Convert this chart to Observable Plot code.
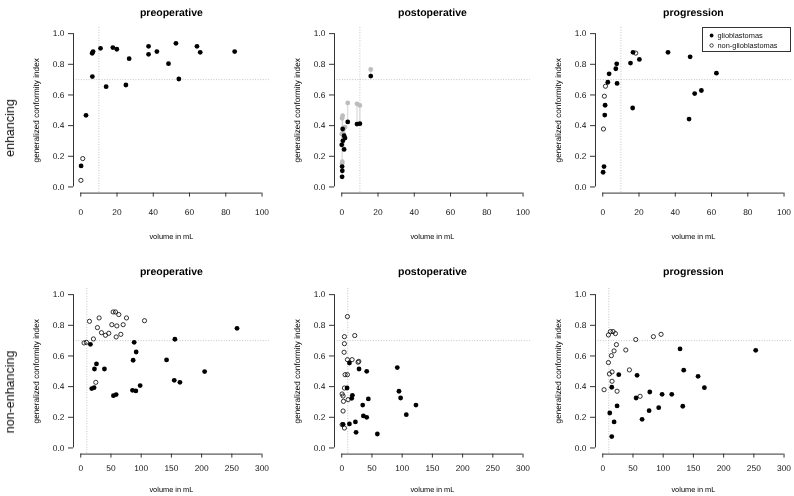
<!DOCTYPE html>
<html>
<head>
<meta charset="utf-8">
<script src="https://cdn.jsdelivr.net/npm/d3@7"></script>
<script src="https://cdn.jsdelivr.net/npm/@observablehq/plot@0.6"></script>
<style>
  html, body { margin: 0; padding: 0; background: #fff; }
  #wrap { position: relative; width: 794px; height: 496px; overflow: hidden; background: #fff;
          font-family: "Liberation Sans", Arial, Helvetica, sans-serif; color: #222; }
  .panel { position: absolute; will-change: transform; text-rendering: geometricPrecision; }
  .rowlab { position: absolute; transform: translate(-50%, -50%) rotate(-90deg); white-space: nowrap;
            font-size: 12.5px; color: #111; will-change: transform; }
  .legend { position: absolute; box-sizing: border-box; border: 1px solid #333; background: #fff;
            font-size: 7.4px; color: #111; will-change: transform; }
  .legend .row { position: absolute; left: 0; white-space: nowrap; display: flex; align-items: center; }
  .legend svg { display: block; }
</style>
</head>
<body>
<div id="wrap"></div>
<script>
// ---------- labels ----------
const panelTitles = ["preoperative", "postoperative", "progression"];
const rowLabels = ["enhancing", "non-enhancing"];
const xLabel = "volume in mL";
const yLabel = "generalized conformity index";
const legendLabels = ["glioblastomas", "non-glioblastomas"];

// ---------- axes ----------
const xTicksEnhancing = [0, 20, 40, 60, 80, 100];
const xTicksNonEnhancing = [0, 50, 100, 150, 200, 250, 300];
const yTicks = [0, 0.2, 0.4, 0.6, 0.8, 1.0];
const volumeCutoff = 10;
const gciCutoff = 0.7;

// ---------- enhancing, preoperative: [volume, gci] ----------
const enhPreGbm = [[0.2,0.137],[2.9,0.467],[6.3,0.872],[6.8,0.883],[6.4,0.72],[10.9,0.904],[14.0,0.654],
  [17.7,0.909],[19.9,0.898],[24.9,0.665],[26.7,0.837],[37.4,0.917],[37.4,0.865],[42.0,0.883],[48.4,0.804],
  [52.5,0.937],[54.1,0.704],[64.1,0.917],[65.9,0.878],[84.9,0.883]];
const enhPreNon = [[1.1,0.185],[0.1,0.043]];

// ---------- enhancing, postoperative: [volume, gci (black), gci (grey)] ----------
const enhPostPairs = [[0.2,0.066,0.448],[0.3,0.105,0.165],[0.2,0.133,0.155],[0.5,0.378,0.465],
  [0.0,0.275,0.345],[0.6,0.301,0.35],[1.3,0.334,0.384],[1.8,0.319,0.39],[1.3,0.245,0.33],
  [3.3,0.424,0.548],[8.4,0.41,0.542],[10.0,0.413,0.532],[16.0,0.723,0.766]];

// ---------- enhancing, progression ----------
const enhProgGbm = [[0.2,0.096],[0.7,0.133],[1.1,0.469],[1.3,0.533],[2.8,0.683],[3.5,0.738],[7.2,0.771],
  [7.7,0.803],[7.9,0.675],[15.3,0.808],[16.5,0.515],[16.7,0.878],[20.2,0.832],[36.0,0.878],[48.2,0.849],
  [47.6,0.443],[50.7,0.609],[54.4,0.629],[62.7,0.742]];
const enhProgNon = [[0.4,0.378],[0.9,0.592],[1.5,0.657],[18.2,0.873]];

// ---------- non-enhancing, preoperative ----------
const nonPreGbm = [[16.0,0.676],[26.0,0.548],[22.7,0.515],[39.2,0.515],[18.2,0.387],[22.1,0.393],[54.1,0.341],
  [58.6,0.348],[88.4,0.689],[91.7,0.626],[86.7,0.572],[85.6,0.376],[91.2,0.372],[98.3,0.407],[142.0,0.574],
  [155.8,0.709],[154.7,0.441],[164.1,0.428],[205.0,0.498],[258.6,0.78]];
const nonPreNon = [[5.5,0.685],[9.4,0.689],[14.4,0.826],[21.0,0.711],[24.9,0.428],[27.6,0.785],[30.4,0.848],
  [34.3,0.752],[40.9,0.735],[46.4,0.748],[51.4,0.804],[53.6,0.887],[57.5,0.887],[59.7,0.796],[63.0,0.87],
  [58.6,0.724],[66.3,0.741],[70.2,0.804],[75.7,0.848],[105.5,0.83]];

// ---------- non-enhancing, postoperative ----------
const nonPostGbm = [[12.7,0.554],[28.6,0.515],[41.3,0.5],[8.8,0.391],[17.6,0.343],[16.5,0.324],[44.0,0.32],
  [34.7,0.28],[35.8,0.209],[41.3,0.2],[2.2,0.154],[12.7,0.157],[22.6,0.17],[23.7,0.102],[58.9,0.091],
  [91.9,0.524],[94.7,0.37],[97.4,0.326],[106.8,0.217],[122.8,0.28]];
const nonPostNon = [[9.4,0.857],[4.4,0.726],[21.5,0.733],[4.4,0.68],[3.9,0.624],[9.4,0.576],[17.1,0.576],
  [27.0,0.559],[28.2,0.565],[5.5,0.478],[9.4,0.478],[4.4,0.391],[0.6,0.352],[2.2,0.339],[2.8,0.304],
  [10.5,0.315],[2.2,0.241],[0.6,0.152],[4.4,0.13]];

// ---------- non-enhancing, progression ----------
const nonProgGbm = [[26.5,0.478],[14.9,0.396],[56.8,0.474],[55.2,0.326],[77.8,0.365],[98.2,0.35],[114.2,0.35],
  [127.9,0.646],[134.0,0.507],[157.7,0.467],[168.2,0.393],[132.4,0.272],[253.1,0.637],[23.7,0.274],
  [11.6,0.228],[18.8,0.17],[14.9,0.074],[65.1,0.187],[76.7,0.243],[92.6,0.263]];
const nonProgNon = [[9.4,0.737],[12.7,0.759],[17.1,0.759],[21.0,0.746],[22.6,0.674],[18.7,0.633],[14.3,0.602],
  [9.4,0.557],[15.4,0.496],[11.0,0.483],[15.4,0.435],[23.7,0.37],[2.2,0.38],[38.1,0.639],[44.1,0.509],
  [54.6,0.707],[61.8,0.337],[83.8,0.726],[96.5,0.741]];

// ---------- layout ----------
const FRAME_W = 195.8, FRAME_H = 165.6;
const COL_LEFT = [73.4, 334.4, 595.4];
const ROW_TOP = [26.7, 288.2];
const TITLE_DY = [-19, -21];
const TICK_PAD = [12, 7];
const XLAB_DY = [46, 38];
const ML = 48, MR = 2, MT = 28, MB = 52;

const wrap = document.getElementById("wrap");
const FONT = "'Liberation Sans', Arial, Helvetica, sans-serif";

function makePanel({row, col, xmax, xticks, gbm = [], non = [], pairs = null}) {
  const pad = 0.04 * xmax;
  const refStyle = {stroke: "#c4c4c4", strokeWidth: 1, strokeDasharray: "1,1.6"};
  const marks = [
    Plot.ruleX([volumeCutoff], refStyle),
    Plot.ruleY([gciCutoff], refStyle),
    // R-style axis lines spanning first to last tick
    Plot.ruleY([{y: -0.04, x1: xticks[0], x2: xticks[xticks.length - 1]}],
               {y: "y", x1: "x1", x2: "x2", stroke: "#333", strokeWidth: 1}),
    Plot.ruleX([{x: -pad, y1: yTicks[0], y2: yTicks[yTicks.length - 1]}],
               {x: "x", y1: "y1", y2: "y2", stroke: "#333", strokeWidth: 1}),
    Plot.axisX({ticks: xticks, tickSize: 4, tickPadding: TICK_PAD[row], fontSize: 8.4, tickFormat: d => String(d), label: null, stroke: "#333", fill: "#111"}),
    Plot.axisY({ticks: yTicks, tickSize: 5, tickPadding: 4, fontSize: 8.4, tickFormat: d3.format(".1f"), label: null, stroke: "#333", fill: "#111"}),
    Plot.text([panelTitles[col]], {text: d => d, frameAnchor: "top", dy: TITLE_DY[row], fontWeight: "bold", fontSize: 10.5, fill: "#000"}),
    Plot.text([xLabel], {text: d => d, frameAnchor: "bottom", dy: XLAB_DY[row], fontSize: 7.4, fill: "#000"}),
    Plot.text([yLabel], {text: d => d, frameAnchor: "left", textAnchor: "middle", dx: -37, rotate: -90, fontSize: 8.2, fill: "#000"})
  ];
  if (pairs) {
    marks.push(Plot.link(pairs, {x1: d => d[0], x2: d => d[0], y1: d => d[1], y2: d => d[2], stroke: "#d2d2d2", strokeWidth: 1}));
    marks.push(Plot.dot(pairs, {x: d => d[0], y: d => d[2], r: 2.4, fill: "#bdbdbd", stroke: "none"}));
    marks.push(Plot.dot(pairs, {x: d => d[0], y: d => d[1], r: 2.4, fill: "#000", stroke: "none"}));
  }
  marks.push(Plot.dot(non, {x: d => d[0], y: d => d[1], r: 2.1, fill: "none", stroke: "#000", strokeWidth: 0.8}));
  marks.push(Plot.dot(gbm, {x: d => d[0], y: d => d[1], r: 2.4, fill: "#000", stroke: "none"}));

  const svg = Plot.plot({
    width: ML + FRAME_W + MR,
    height: MT + FRAME_H + MB,
    marginLeft: ML, marginRight: MR, marginTop: MT, marginBottom: MB,
    x: {domain: [-pad, xmax + pad]},
    y: {domain: [-0.04, 1.04]},
    style: {fontFamily: FONT, color: "#222", background: "#fff", overflow: "visible"},
    marks
  });
  svg.classList.add("panel");
  svg.style.left = (COL_LEFT[col] - ML) + "px";
  svg.style.top = (ROW_TOP[row] - MT) + "px";
  wrap.appendChild(svg);
}

makePanel({row: 0, col: 0, xmax: 100, xticks: xTicksEnhancing, gbm: enhPreGbm, non: enhPreNon});
makePanel({row: 0, col: 1, xmax: 100, xticks: xTicksEnhancing, pairs: enhPostPairs});
makePanel({row: 0, col: 2, xmax: 100, xticks: xTicksEnhancing, gbm: enhProgGbm, non: enhProgNon});
makePanel({row: 1, col: 0, xmax: 300, xticks: xTicksNonEnhancing, gbm: nonPreGbm, non: nonPreNon});
makePanel({row: 1, col: 1, xmax: 300, xticks: xTicksNonEnhancing, gbm: nonPostGbm, non: nonPostNon});
makePanel({row: 1, col: 2, xmax: 300, xticks: xTicksNonEnhancing, gbm: nonProgGbm, non: nonProgNon});

// row labels
const rowCenters = [128, 392];
rowLabels.forEach((t, i) => {
  const d = document.createElement("div");
  d.className = "rowlab";
  d.textContent = t;
  d.style.left = "9.5px";
  d.style.top = rowCenters[i] + "px";
  wrap.appendChild(d);
});

// legend (top-right of progression / enhancing panel)
const lg = document.createElement("div");
lg.className = "legend";
const lgW = 89.4, lgH = 25;
lg.style.left = (COL_LEFT[2] + FRAME_W - lgW + 0.5) + "px";
lg.style.top = (ROW_TOP[0] + 0.6) + "px";
lg.style.width = lgW + "px";
lg.style.height = lgH + "px";
legendLabels.forEach((t, i) => {
  const r = document.createElement("div");
  r.className = "row";
  r.style.top = (3.4 + i * 10) + "px";
  r.style.left = "4.5px";
  const filled = i === 0;
  r.innerHTML = `<svg width="9" height="9"><circle cx="3.6" cy="4.5" r="${filled ? 1.9 : 1.7}" fill="${filled ? "#000" : "none"}" stroke="${filled ? "none" : "#000"}" stroke-width="0.7"></circle></svg><span style="margin-left:1px">${t}</span>`;
  lg.appendChild(r);
});
wrap.appendChild(lg);
</script>
</body>
</html>
